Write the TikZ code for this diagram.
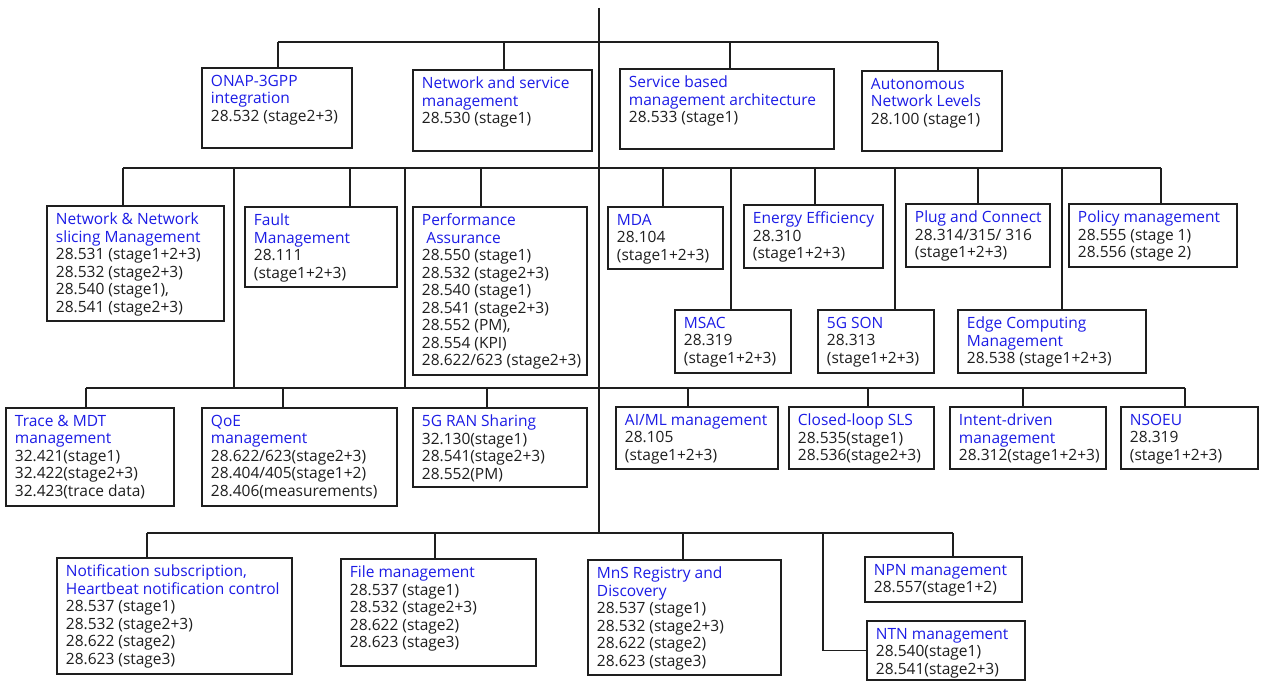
\documentclass[tikz,border=0pt]{standalone}
\usepackage{fontspec}
\setmainfont{Open Sans}
\usetikzlibrary{fit}
\definecolor{tb}{RGB}{28,28,230}
\definecolor{bd}{RGB}{30,30,30}
\tikzset{
  box/.style={draw=bd, line width=1.5pt, inner sep=0pt},
  txt/.style={inner sep=0pt, anchor=north west, align=left, text=bd, font=\fontsize{15.5}{17.5}\selectfont},
  wire/.style={draw=bd, line width=1.5pt}
}
\newcommand\ttl[1]{\textcolor{tb}{#1}}
\newcommand\mkbox[5]{%
  \node[box, fit={#2}] (#1) {};
  \node[txt] (#1-t) at ([xshift=9.5pt,yshift=-7.5pt]#1.north west) {#3\\#4};
}
\begin{document}
\begin{tikzpicture}[x=1pt,y=-1pt]
\fill[white] (0,0) rectangle (1265,682);
\useasboundingbox (0,0) rectangle (1265,682);

% Level 1
\mkbox{onap}{(202,68)(352,148)}{\ttl{ONAP-3GPP}\\\ttl{integration}}{28.532 (stage2+3)}{}
\mkbox{nsm}{(413,70)(592,151)}{\ttl{Network and service}\\\ttl{management}}{28.530 (stage1)}{}
\mkbox{sbma}{(620,69)(834,149)}{\ttl{Service based}\\\ttl{management architecture}}{28.533 (stage1)}{}
\mkbox{anl}{(862,71)(1002,151)}{\ttl{Autonomous}\\\ttl{Network Levels}}{28.100 (stage1)}{}

% Level 2
\mkbox{nnsm}{(47,206)(224,321)}{\ttl{Network \& Network}\\\ttl{slicing Management}}{28.531 (stage1+2+3)\\28.532 (stage2+3)\\28.540 (stage1),\\28.541 (stage2+3)}{}
\mkbox{fault}{(245,207)(397,287)}{\ttl{Fault}\\\ttl{Management}}{28.111\\(stage1+2+3)}{}
\mkbox{pa}{(413,207)(587,375)}{\ttl{Performance}\\\hspace*{4.5pt}\ttl{Assurance}}{28.550 (stage1)\\28.532 (stage2+3)\\28.540 (stage1)\\28.541 (stage2+3)\\28.552 (PM),\\28.554 (KPI)\\28.622/623 (stage2+3)}{}
\mkbox{mda}{(608,207)(723,269)}{\ttl{MDA}}{28.104\\(stage1+2+3)}{}
\mkbox{ee}{(744,205)(883,268)}{\ttl{Energy Efficiency}}{28.310\\(stage1+2+3)}{}
\mkbox{pc}{(906,204)(1050,267)}{\ttl{Plug and Connect}}{28.314/315/ 316\\(stage1+2+3)}{}
\mkbox{policy}{(1069,204)(1237,267)}{\ttl{Policy management}}{28.555 (stage 1)\\28.556 (stage 2)}{}
\mkbox{msac}{(675,310)(791,373)}{\ttl{MSAC}}{28.319\\(stage1+2+3)}{}
\mkbox{son}{(818,310)(934,373)}{\ttl{5G SON}}{28.313\\(stage1+2+3)}{}
\mkbox{edge}{(958,310)(1146,373)}{\ttl{Edge Computing}\\\ttl{Management}}{28.538 (stage1+2+3)}{}

% Level 3
\mkbox{trace}{(6,408)(174,506)}{\ttl{Trace \& MDT}\\\ttl{management}}{32.421(stage1)\\32.422(stage2+3)\\32.423(trace data)}{}
\mkbox{qoe}{(202,408)(397,506)}{\ttl{QoE}\\\ttl{management}}{28.622/623(stage2+3)\\28.404/405(stage1+2)\\28.406(measurements)}{}
\mkbox{ran}{(413,408)(587,487)}{\ttl{5G RAN Sharing}}{32.130(stage1)\\28.541(stage2+3)\\28.552(PM)}{}
\mkbox{aiml}{(616,407)(778,469)}{\ttl{AI/ML management}}{28.105\\(stage1+2+3)}{}
\mkbox{cls}{(789,407)(934,469)}{\ttl{Closed-loop SLS}}{28.535(stage1)\\28.536(stage2+3)}{}
\mkbox{intent}{(950,407)(1106,469)}{\ttl{Intent-driven}\\\ttl{management}}{28.312(stage1+2+3)}{}
\mkbox{nsoeu}{(1121,407)(1258,469)}{\ttl{NSOEU}}{28.319\\(stage1+2+3)}{}

% Level 4
\mkbox{notif}{(57,558)(292,674)}{\ttl{Notification subscription,}\\\ttl{Heartbeat notification control}}{28.537 (stage1)\\28.532 (stage2+3)\\28.622 (stage2)\\28.623 (stage3)}{}
\mkbox{file}{(341,559)(536,666)}{\ttl{File management}}{28.537 (stage1)\\28.532 (stage2+3)\\28.622 (stage2)\\28.623 (stage3)}{}
\mkbox{mns}{(588,560)(781,675)}{\ttl{MnS Registry and}\\\ttl{Discovery}}{28.537 (stage1)\\28.532 (stage2+3)\\28.622 (stage2)\\28.623 (stage3)}{}
\mkbox{npn}{(865,557)(1022,602)}{\ttl{NPN management}}{28.557(stage1+2)}{}
\mkbox{ntn}{(867,621)(1025,680)}{\ttl{NTN management}}{28.540(stage1)\\28.541(stage2+3)}{}

% Trunk
\coordinate (top) at (599,8);
\coordinate (trunkend) at (599,533);
\draw[wire] (top) -- (trunkend);

% Bus 1
\coordinate (b1l) at (278,42);
\coordinate (b1r) at (938,42);
\draw[wire] (b1l) -- (b1r);
\foreach \x/\n in {278/onap,504/nsm,730/sbma,938/anl}{
  \coordinate (t1-\n) at (\x,42);
  \draw[wire] (t1-\n) -- (t1-\n |- \n.north);
}

% Bus 2
\coordinate (b2l) at (123,168);
\coordinate (b2r) at (1161,168);
\draw[wire] (b2l) -- (b2r);
\foreach \x/\n in {123/nnsm,350/fault,481/pa,663/mda,731/msac,815/ee,895/son,978/pc,1062/edge,1161/policy}{
  \coordinate (t2-\n) at (\x,168);
  \draw[wire] (t2-\n) -- (t2-\n |- \n.north);
}

% Bus 3
\coordinate (b3l) at (86,388);
\coordinate (b3r) at (1185,388);
\draw[wire] (b3l) -- (b3r);
\coordinate (p1a) at (234,168); \coordinate (p1b) at (234,388);
\coordinate (p2a) at (405,168); \coordinate (p2b) at (405,388);
\draw[wire] (p1a) -- (p1b);
\draw[wire] (p2a) -- (p2b);
\foreach \x/\n in {86/trace,283/qoe,487/ran,688/aiml,868/cls,1023/intent,1185/nsoeu}{
  \coordinate (t3-\n) at (\x,388);
  \draw[wire] (t3-\n) -- (t3-\n |- \n.north);
}

% Bus 4
\coordinate (b4l) at (147,533);
\coordinate (b4r) at (953,533);
\draw[wire] (b4l) -- (b4r);
\foreach \x/\n in {147/notif,435/file,683/mns,953/npn}{
  \coordinate (t4-\n) at (\x,533);
  \draw[wire] (t4-\n) -- (t4-\n |- \n.north);
}
\coordinate (t4-ntn) at (823,533);
\draw[wire] (t4-ntn) |- (ntn.west);
\end{tikzpicture}
\end{document}
